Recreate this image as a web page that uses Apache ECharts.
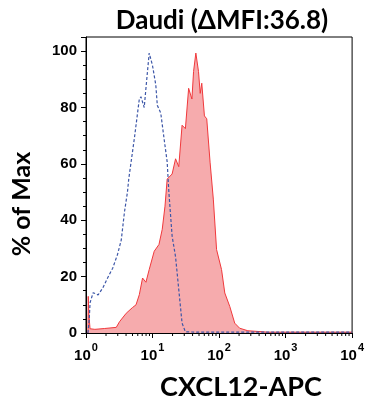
<!DOCTYPE html>
<html><head><meta charset="utf-8">
<script src="https://cdn.jsdelivr.net/npm/echarts@6/dist/echarts.min.js"></script>
<style>html,body{margin:0;padding:0;background:#fff}#c{width:367px;height:406px}</style>
</head><body><div id="c"></div>
<script>
// Isotype (blue dashed): [fluorescence, % of max]
var isoX = [1.07,1.12,1.15,1.28,1.52,1.79,2.12,2.52,2.98,3.39,3.79,4.20,4.39,5.33,6.33,6.70,7.50,7.96,8.91,9.97,11.2,11.8,13.3,14.9,16.6,17.6,19.7,22.2,24.8,27.8,31.2,50,100,1000,10000];
var isoY = [0,5,10.7,14.3,13.5,16,19.6,23,27.9,33,43,50,54.6,69,83,83.8,80,86.8,99.3,95,88,80.8,78,69,60.7,50,34.4,27,15.4,3.5,0.4,0.3,0.3,0.3,0.3];
// CXCL12 (red filled)
var cxX = [1.07,1.08,1.11,1.15,1.36,1.91,2.85,3.19,4.02,4.98,5.65,6.33,7.08,7.96,8.91,10.6,12.5,14.0,15.4,16.6,17.6,19.7,22.2,24.8,27.8,31.2,34.9,39.1,41.4,44.8,49.1,52.1,55.0,60.3,65.3,73.3,82.0,91.8,109,122,145,172,204,271,537,10000];
var cxY = [0,13,6,1.5,1.3,1.6,2,4,7,9,10,13.6,19.5,18,22.5,29,31.4,36.8,45,54.6,54.6,56.4,61.8,59,73.7,72.5,86.8,83,92.8,99.3,92.8,85,88.6,77,76,60.6,47.5,29.6,22.5,14.2,9.4,3.5,1.7,0.8,0.3,0.3];
var minorTicks = [2,3,4,5,6,7,8,9,20,30,40,50,60,70,80,90,200,300,400,500,600,700,800,900,2000,3000,4000,5000,6000,7000,8000,9000];
var yTicks = [0,20,40,60,80,100];

function zip(a,b){return a.map(function(v,i){return [v,b[i]];});}
var chart = echarts.init(document.getElementById('c'));
chart.setOption({
  animation:false,
  grid:{left:86,right:11,top:37,bottom:73,show:true,borderColor:'#000',borderWidth:1,backgroundColor:'transparent'},
  xAxis:{type:'log',logBase:10,min:1,max:10000,
    axisLine:{lineStyle:{color:'#000',width:1}},
    axisTick:{show:true,inside:false,length:5,lineStyle:{color:'#000'}},
    splitLine:{show:false},
    axisLabel:{margin:9,formatter:function(v){var e=Math.round(Math.log10(v));return '{b|10}{s|'+e+'}';},
      rich:{b:{fontSize:15,fontWeight:'bold',fontFamily:'"Liberation Sans",Arial,sans-serif',color:'#000',padding:[6,0,0,0]},
            s:{fontSize:11,fontWeight:'bold',fontFamily:'"Liberation Sans",Arial,sans-serif',color:'#000',verticalAlign:'top',padding:[0,0,0,1]}}}
  },
  yAxis:{type:'value',min:0,max:105,interval:20,
    axisLine:{show:true,lineStyle:{color:'#000',width:1}},
    axisTick:{show:true,length:5,lineStyle:{color:'#000'}},
    minorTick:{show:true,splitNumber:4,length:3,lineStyle:{color:'#000'}},
    splitLine:{show:false},
    axisLabel:{margin:9,color:'#000',fontSize:15,fontWeight:'bold',fontFamily:'"Liberation Sans",Arial,sans-serif',
      formatter:function(v){return yTicks.indexOf(v)>=0?String(v):'';}}
  },
  series:[
    {type:'line',data:zip(cxX,cxY),showSymbol:false,symbol:'none',
      lineStyle:{color:'#f0393c',width:1},areaStyle:{color:'#f6abad',opacity:1},z:2},
    {type:'line',data:zip(isoX,isoY),showSymbol:false,symbol:'none',
      lineStyle:{color:'#3d57a8',width:1.2,type:[3,2]},z:3},
    {type:'custom',clip:false,silent:true,z:4,data:minorTicks.map(function(v){return [v,0];}),
      renderItem:function(params,api){var p=api.coord([api.value(0),0]);
        return {type:'line',shape:{x1:p[0],y1:p[1],x2:p[0],y2:p[1]+3},style:{stroke:'#000',lineWidth:1}};}}
  ],
  graphic:[
    {type:'text',x:222,y:21,style:{text:'Daudi (ΔMFI:36.8)',font:'bold 26px Lato, "Liberation Sans", sans-serif',fill:'#000',align:'center',verticalAlign:'middle'}},
    {type:'text',x:22,y:204,rotation:Math.PI/2,style:{text:'% of Max',font:'bold 25px Lato, "Liberation Sans", sans-serif',fill:'#000',align:'center',verticalAlign:'middle'}},
    {type:'text',x:241,y:387,style:{text:'CXCL12-APC',font:'bold 27px Lato, "Liberation Sans", sans-serif',fill:'#000',align:'center',verticalAlign:'middle'}}
  ]
});
</script></body></html>
